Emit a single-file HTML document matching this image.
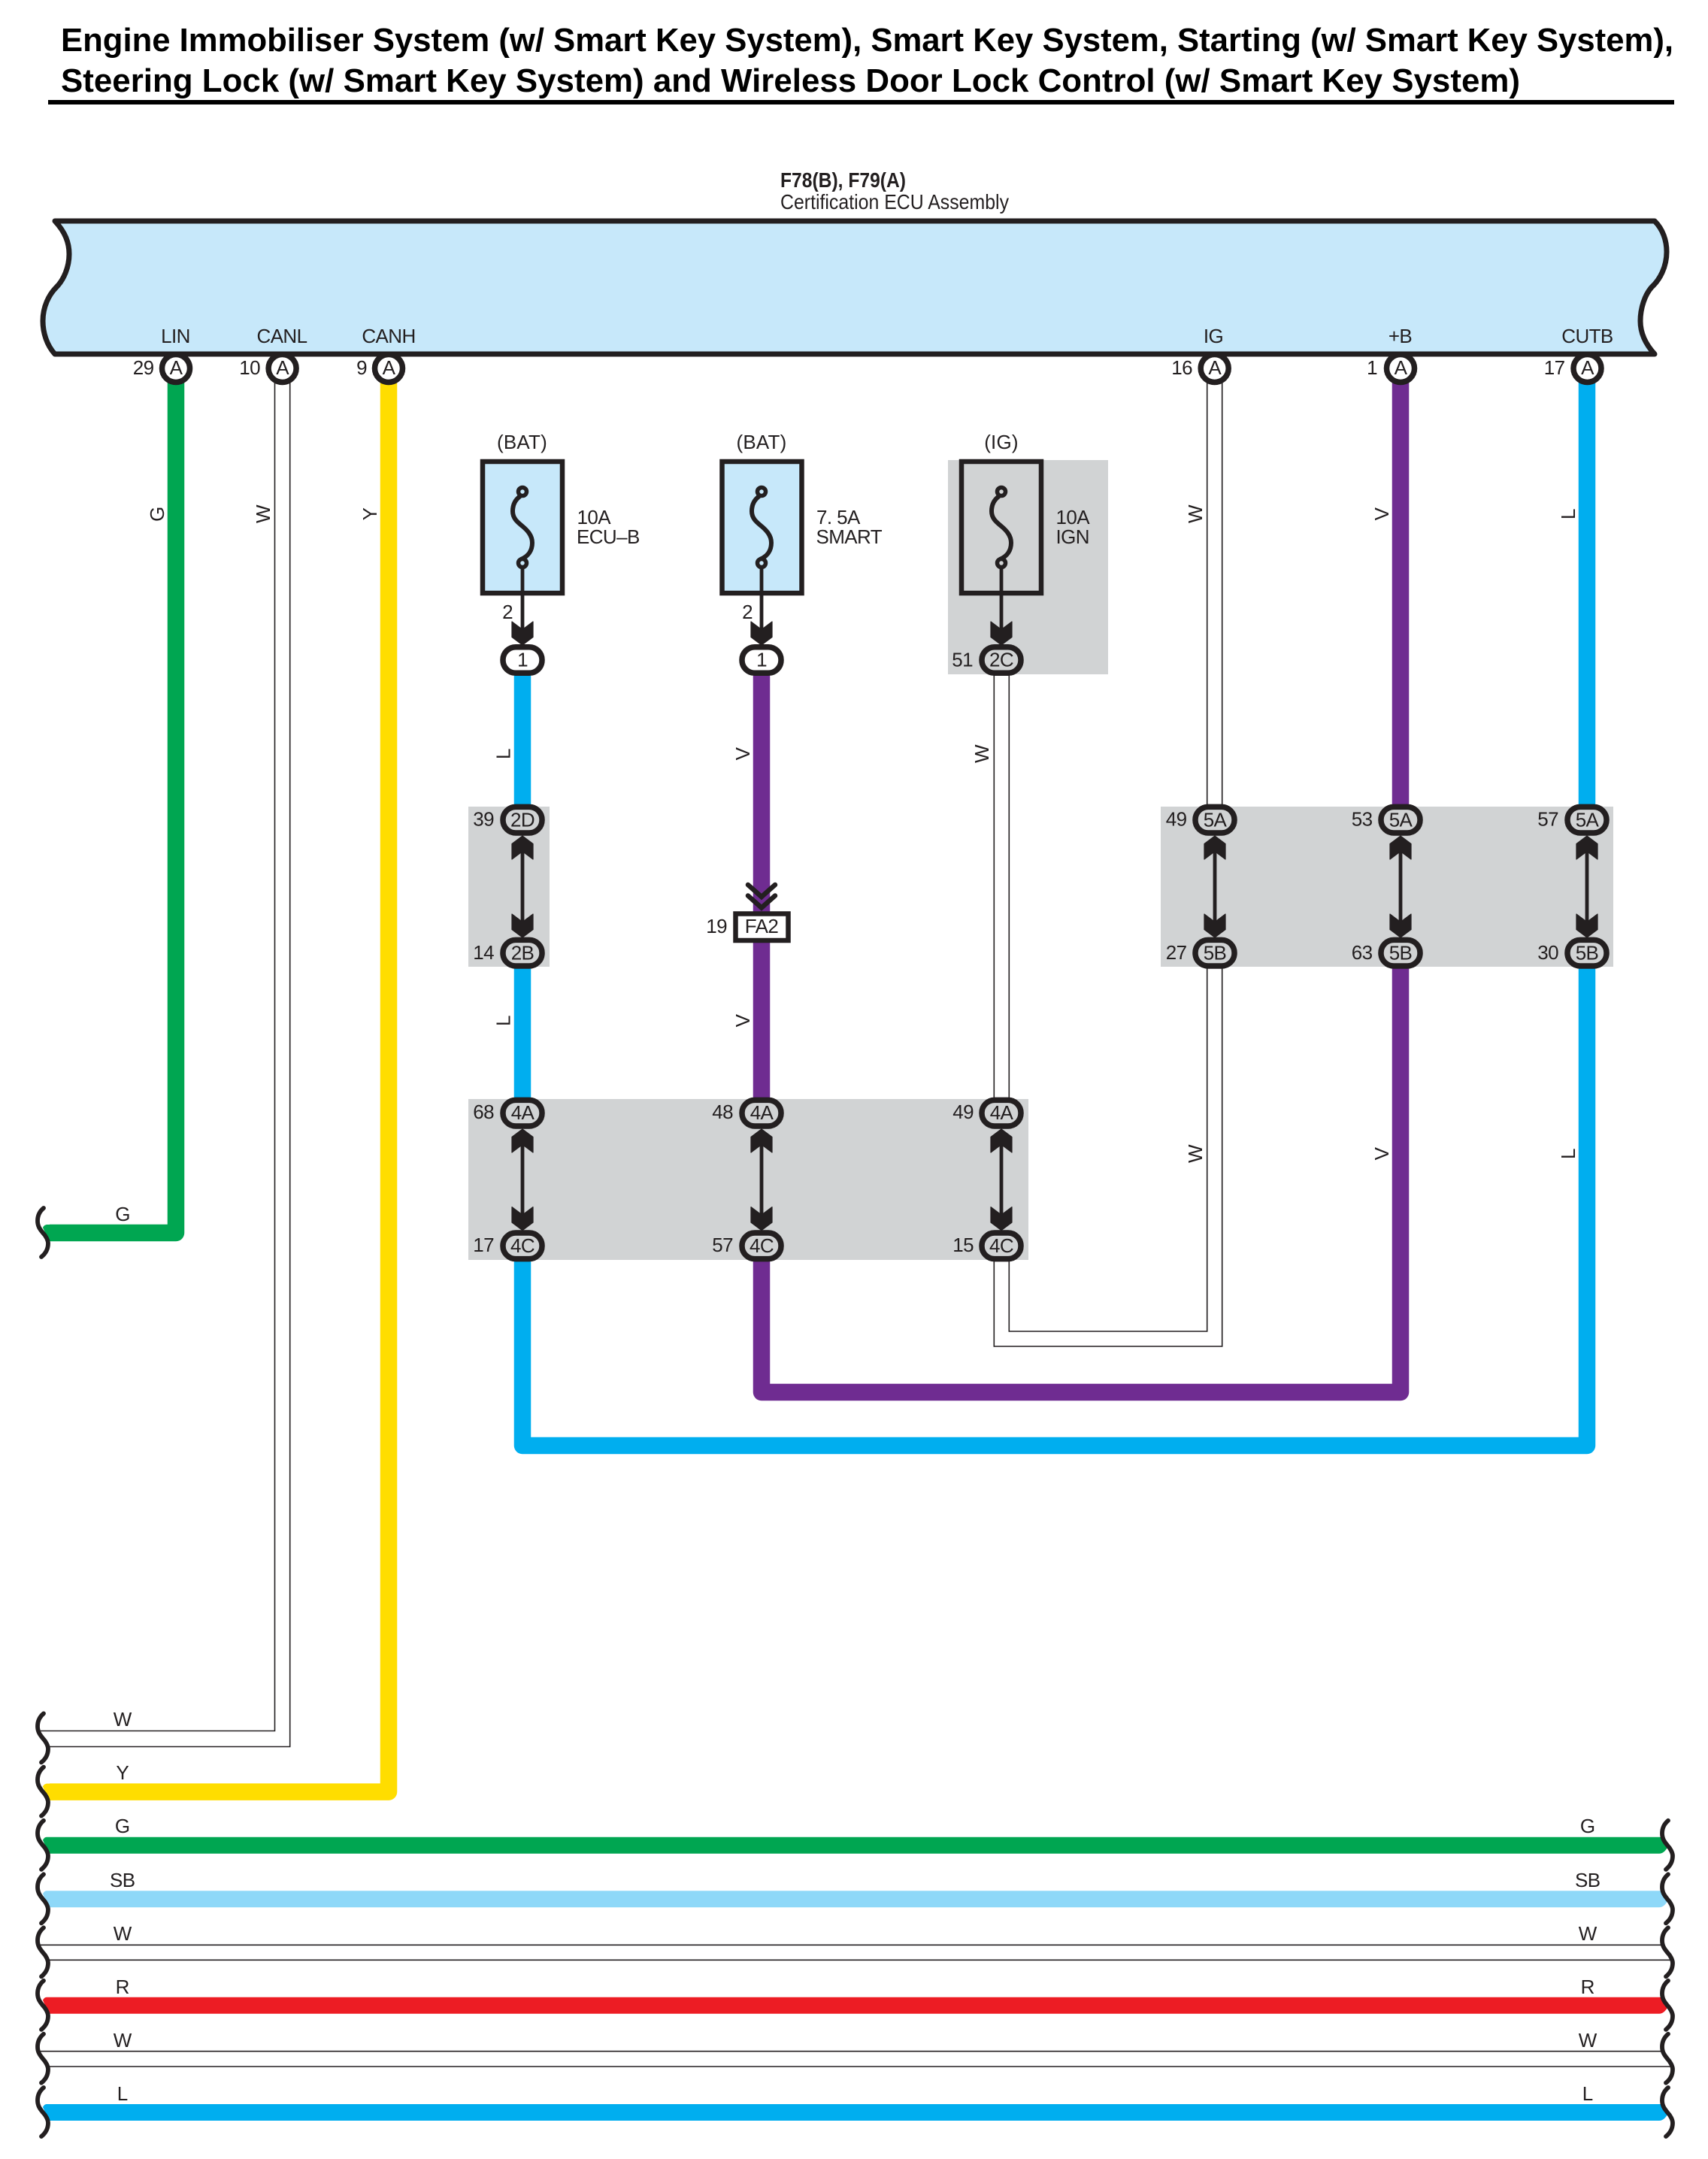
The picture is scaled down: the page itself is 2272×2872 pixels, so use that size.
<!DOCTYPE html>
<html lang="en">
<head>
<meta charset="utf-8">
<title>Engine Immobiliser System Wiring Diagram</title>
<style>
html,body{margin:0;padding:0;background:#fff}
svg{display:block}
text{font-family:"Liberation Sans",Arial,sans-serif;font-size:26px;letter-spacing:-.6px;fill:#231f20}
.m{text-anchor:middle}
.e{text-anchor:end}
.wl{fill:none;stroke:#231f20;stroke-width:1.6}
.b{stroke:#231f20;stroke-width:7.5;fill:#fff}
</style>
</head>
<body>
<svg xmlns="http://www.w3.org/2000/svg" width="2272" height="2872" viewBox="0 0 2272 2872">
<defs>
<path id="brk" d="M58,-33C52,-28 50,-22 50,-16C50,-8 54,-4 57,0C61,4 64,10 64,14C64,22 60,28 55,32" fill="none" stroke="#231f20" stroke-width="5.8" stroke-linecap="round"/>
<path id="hw" d="M62,-11L2210,-11L2219,1Q2214,11 2207,11L65,11L57,-7Q59,-11 62,-11Z"/>
<path id="lt" d="M72,-11L62,-11Q58,-10 57,-7L65,11L72,11Z"/>
<path id="ad" d="M0,0L14,-10.5L14,-31L0,-20.5L-14,-31L-14,-10.5Z" fill="#231f20" stroke="#231f20" stroke-width="1.2" stroke-linejoin="round"/>
<g id="s">
<path d="M-3,660C-10,665 -13,672 -13,680C-13,690 -6,695 0,700C6,705 13,712 13,722C13,732 8,740 -2,744" fill="none" stroke="#231f20" stroke-width="6"/>
<path d="M0,755V845" stroke="#231f20" stroke-width="4.8" fill="none"/>
<use href="#ad" y="858"/>
</g>
<g id="p1">
<path d="M0,1120V1240" stroke="#231f20" stroke-width="4.8"/>
<use href="#ad" transform="translate(0,1112) scale(1,-1)"/>
<use href="#ad" y="1247"/>
<rect x="-26" y="1073.4" width="52" height="34.6" rx="17" fill="#d1d3d4" stroke="#231f20" stroke-width="7.5"/>
<rect x="-26" y="1250.4" width="52" height="34.6" rx="17" fill="#d1d3d4" stroke="#231f20" stroke-width="7.5"/>
</g>
<g id="p2">
<path d="M0,1510V1630" stroke="#231f20" stroke-width="4.8"/>
<use href="#ad" transform="translate(0,1502) scale(1,-1)"/>
<use href="#ad" y="1636.6"/>
<rect x="-26" y="1463.4" width="52" height="34.6" rx="17" fill="#d1d3d4" stroke="#231f20" stroke-width="7.5"/>
<rect x="-26" y="1640" width="52" height="34.6" rx="17" fill="#d1d3d4" stroke="#231f20" stroke-width="7.5"/>
</g>
</defs>

<!-- Title -->
<text x="81" y="68" textLength="2145" lengthAdjust="spacingAndGlyphs" style="font-size:43.5px;font-weight:bold;letter-spacing:0;fill:#000">Engine Immobiliser System (w/ Smart Key System), Smart Key System, Starting (w/ Smart Key System),</text>
<text x="81" y="122" textLength="1941" lengthAdjust="spacingAndGlyphs" style="font-size:43.5px;font-weight:bold;letter-spacing:0;fill:#000">Steering Lock (w/ Smart Key System) and Wireless Door Lock Control (w/ Smart Key System)</text>
<rect x="64" y="133" width="2163" height="6" fill="#000"/>

<text x="1038" y="249" textLength="167" lengthAdjust="spacingAndGlyphs" style="font-size:28px;font-weight:bold;letter-spacing:0">F78(B), F79(A)</text>
<text x="1038" y="278" textLength="304" lengthAdjust="spacingAndGlyphs" style="font-size:27.5px;letter-spacing:0">Certification ECU Assembly</text>

<!-- Gray blocks -->
<rect x="1261" y="612" width="213" height="285" fill="#d1d3d4"/>
<rect x="623" y="1073" width="108" height="213" fill="#d1d3d4"/>
<rect x="1544" y="1073" width="602" height="213" fill="#d1d3d4"/>
<rect x="623" y="1462" width="745" height="214" fill="#d1d3d4"/>

<!-- ECU bar -->
<path d="M73,294C87,309 92,323 92,338C92,355 85,372 75,382C65,392 57,408 57,427C57,442 62,459 73,471L2201,471C2190,459 2182,445 2182,427C2182,410 2188,392 2197,382C2208,372 2217,355 2217,335C2217,320 2212,305 2201,294Z" fill="#c7e8fa" stroke="#231f20" stroke-width="7" stroke-linejoin="round"/>

<!-- Thick vertical wires -->
<g fill="none" stroke-width="22.5" stroke-linejoin="round">
<path d="M234,505V1640H66" stroke="#00a651"/>
<path d="M517,505V2383.6H66" stroke="#ffdd00"/>
<path d="M1863,505V1075" stroke="#6f2c91"/>
<path d="M2111,505V1075" stroke="#00aeef"/>
<path d="M695,890V1075" stroke="#00aeef"/>
<path d="M1013,890V1220" stroke="#6f2c91"/>
<path d="M695,1280V1470" stroke="#00aeef"/>
<path d="M1013,1250V1470" stroke="#6f2c91"/>
<path d="M1013,1670V1852H1863V1280" stroke="#6f2c91"/>
<path d="M695,1670V1923H2111V1280" stroke="#00aeef"/>
</g>
<use href="#lt" y="1640" fill="#00a651"/>
<use href="#lt" y="2383.6" fill="#ffdd00"/>

<!-- Double W wires -->
<path class="wl" d="M365.5,505V2302.5H53"/>
<path class="wl" d="M385.7,505V2323.5H65"/>
<path class="wl" d="M1605.7,505V1075M1625.7,505V1075"/>
<path class="wl" d="M1322.3,890V1470M1342.3,890V1470"/>
<path class="wl" d="M1322.3,1670V1791H1625.7V1280"/>
<path class="wl" d="M1342.3,1670V1771H1605.7V1280"/>

<!-- Horizontal bus wires -->
<use href="#hw" y="2454.8" fill="#00a651"/>
<use href="#hw" y="2526.3" fill="#8ed8f8"/>
<path class="wl" d="M53,2587.3H2211M65,2607.3H2223"/>
<use href="#hw" y="2667.8" fill="#ed1c24"/>
<path class="wl" d="M53,2728.7H2211M65,2749H2223"/>
<use href="#hw" y="2810" fill="#00aeef"/>

<!-- Breaks -->
<use href="#brk" y="1640"/>
<use href="#brk" y="2312.4"/>
<use href="#brk" y="2383.6"/>
<use href="#brk" y="2454.8"/>
<use href="#brk" y="2526.3"/>
<use href="#brk" y="2597.3"/>
<use href="#brk" y="2667.8"/>
<use href="#brk" y="2738.7"/>
<use href="#brk" y="2810"/>
<use href="#brk" x="2161" y="2454.8"/>
<use href="#brk" x="2161" y="2526.3"/>
<use href="#brk" x="2161" y="2597.3"/>
<use href="#brk" x="2161" y="2667.8"/>
<use href="#brk" x="2161" y="2738.7"/>
<use href="#brk" x="2161" y="2810"/>

<!-- ECU connector circles -->
<circle class="b" cx="234" cy="490" r="18.5"/>
<circle class="b" cx="375.6" cy="490" r="18.5"/>
<circle class="b" cx="517" cy="490" r="18.5"/>
<circle class="b" cx="1615.7" cy="490" r="18.5"/>
<circle class="b" cx="1863" cy="490" r="18.5"/>
<circle class="b" cx="2111.5" cy="490" r="18.5"/>

<!-- Fuses -->
<rect x="642" y="614" width="106" height="175" fill="#c7e8fa" stroke="#231f20" stroke-width="6.5"/>
<use href="#s" x="695"/>
<circle cx="695" cy="654" r="5.5" fill="#c7e8fa" stroke="#231f20" stroke-width="5.5"/>
<circle cx="695" cy="749" r="5.5" fill="#c7e8fa" stroke="#231f20" stroke-width="5.5"/>
<rect x="960.5" y="614" width="106" height="175" fill="#c7e8fa" stroke="#231f20" stroke-width="6.5"/>
<use href="#s" x="1013"/>
<circle cx="1013" cy="654" r="5.5" fill="#c7e8fa" stroke="#231f20" stroke-width="5.5"/>
<circle cx="1013" cy="749" r="5.5" fill="#c7e8fa" stroke="#231f20" stroke-width="5.5"/>
<rect x="1279" y="614" width="106" height="175" fill="#d1d3d4" stroke="#231f20" stroke-width="6.5"/>
<use href="#s" x="1332"/>
<circle cx="1332" cy="654" r="5.5" fill="#d1d3d4" stroke="#231f20" stroke-width="5.5"/>
<circle cx="1332" cy="749" r="5.5" fill="#d1d3d4" stroke="#231f20" stroke-width="5.5"/>

<!-- Pills -->
<rect class="b" x="669" y="860.7" width="52" height="34.6" rx="17"/>
<rect class="b" x="987" y="860.7" width="52" height="34.6" rx="17"/>
<rect x="1306" y="860.7" width="52" height="34.6" rx="17" fill="#d1d3d4" stroke="#231f20" stroke-width="7.5"/>
<use href="#p1" x="695"/>
<use href="#p1" x="1616"/>
<use href="#p1" x="1863"/>
<use href="#p1" x="2111"/>
<use href="#p2" x="695"/>
<use href="#p2" x="1013"/>
<use href="#p2" x="1332"/>

<!-- FA2 junction -->
<rect class="b" x="978.5" y="1215.5" width="70" height="35.5" style="stroke-width:6.5"/>
<path d="M995,1177L1013,1193L1031,1177M995,1191.5L1013,1207.5L1031,1191.5" fill="none" stroke="#231f20" stroke-width="6.5" stroke-linecap="round"/>

<!-- ECU labels -->
<text class="m" x="233.5" y="456">LIN</text>
<text class="m" x="375" y="456">CANL</text>
<text class="m" x="517" y="456">CANH</text>
<text class="m" x="1614" y="456">IG</text>
<text class="m" x="1862.5" y="456">+B</text>
<text class="m" x="2111.5" y="456">CUTB</text>
<text class="m" x="234" y="498">A</text>
<text class="m" x="375.6" y="498">A</text>
<text class="m" x="517" y="498">A</text>
<text class="m" x="1615.7" y="498">A</text>
<text class="m" x="1863" y="498">A</text>
<text class="m" x="2111.5" y="498">A</text>
<text class="e" x="204.5" y="498">29</text>
<text class="e" x="346" y="498">10</text>
<text class="e" x="488" y="498">9</text>
<text class="e" x="1586" y="498">16</text>
<text class="e" x="1832" y="498">1</text>
<text class="e" x="2081.5" y="498">17</text>

<!-- Fuse labels -->
<text class="m" x="694.5" y="597" style="letter-spacing:.2px">(BAT)</text>
<text class="m" x="1013" y="597" style="letter-spacing:.2px">(BAT)</text>
<text class="m" x="1332" y="597" style="letter-spacing:.2px">(IG)</text>
<text x="767.5" y="697">10A</text>
<text x="767" y="723">ECU–B</text>
<text x="1086" y="697">7. 5A</text>
<text x="1085.5" y="723">SMART</text>
<text x="1404.5" y="697">10A</text>
<text x="1404.5" y="723">IGN</text>
<text class="m" x="675" y="823">2</text>
<text class="m" x="994" y="823">2</text>
<text class="m" x="695" y="886.5">1</text>
<text class="m" x="1013" y="886.5">1</text>
<text class="m" x="1332" y="886.5">2C</text>
<text class="e" x="1294" y="886.5">51</text>

<!-- Pill labels -->
<text class="m" x="695" y="1099.3">2D</text>
<text class="m" x="695" y="1276.3">2B</text>
<text class="e" x="657" y="1098.5">39</text>
<text class="e" x="657" y="1276">14</text>
<text class="m" x="1616" y="1099.3">5A</text>
<text class="m" x="1616" y="1276.3">5B</text>
<text class="e" x="1578.5" y="1098.5">49</text>
<text class="e" x="1578.5" y="1276">27</text>
<text class="m" x="1863" y="1099.3">5A</text>
<text class="m" x="1863" y="1276.3">5B</text>
<text class="e" x="1825.5" y="1098.5">53</text>
<text class="e" x="1825.5" y="1276">63</text>
<text class="m" x="2111" y="1099.3">5A</text>
<text class="m" x="2111" y="1276.3">5B</text>
<text class="e" x="2073" y="1098.5">57</text>
<text class="e" x="2073" y="1276">30</text>
<text class="m" x="1013" y="1241">FA2</text>
<text class="e" x="967" y="1241">19</text>
<text class="m" x="695" y="1489">4A</text>
<text class="m" x="695" y="1666">4C</text>
<text class="e" x="657" y="1488">68</text>
<text class="e" x="657" y="1665">17</text>
<text class="m" x="1013" y="1489">4A</text>
<text class="m" x="1013" y="1666">4C</text>
<text class="e" x="975" y="1488">48</text>
<text class="e" x="975" y="1665">57</text>
<text class="m" x="1332" y="1489">4A</text>
<text class="m" x="1332" y="1666">4C</text>
<text class="e" x="1295" y="1488">49</text>
<text class="e" x="1295" y="1665">15</text>

<!-- Rotated wire colour labels -->
<text class="m" transform="translate(218,684) rotate(-90)">G</text>
<text class="m" transform="translate(359,684) rotate(-90)">W</text>
<text class="m" transform="translate(501,684) rotate(-90)">Y</text>
<text class="m" transform="translate(1599,684) rotate(-90)">W</text>
<text class="m" transform="translate(1847,684) rotate(-90)">V</text>
<text class="m" transform="translate(2095,684) rotate(-90)">L</text>
<text class="m" transform="translate(678.5,1003) rotate(-90)">L</text>
<text class="m" transform="translate(997,1003) rotate(-90)">V</text>
<text class="m" transform="translate(1315,1003) rotate(-90)">W</text>
<text class="m" transform="translate(678.5,1358) rotate(-90)">L</text>
<text class="m" transform="translate(997,1358) rotate(-90)">V</text>
<text class="m" transform="translate(1599,1535) rotate(-90)">W</text>
<text class="m" transform="translate(1847,1535) rotate(-90)">V</text>
<text class="m" transform="translate(2095,1535) rotate(-90)">L</text>

<!-- Horizontal wire labels -->
<text class="m" x="163" y="1624">G</text>
<text class="m" x="162.7" y="2296">W</text>
<text class="m" x="162.7" y="2367">Y</text>
<text class="m" x="162.7" y="2438">G</text>
<text class="m" x="162.7" y="2510">SB</text>
<text class="m" x="162.7" y="2581">W</text>
<text class="m" x="162.7" y="2652">R</text>
<text class="m" x="162.7" y="2723">W</text>
<text class="m" x="162.7" y="2794">L</text>
<text class="m" x="2111.7" y="2438">G</text>
<text class="m" x="2111.7" y="2510">SB</text>
<text class="m" x="2111.7" y="2581">W</text>
<text class="m" x="2111.7" y="2652">R</text>
<text class="m" x="2111.7" y="2723">W</text>
<text class="m" x="2111.7" y="2794">L</text>
</svg>
</body>
</html>
